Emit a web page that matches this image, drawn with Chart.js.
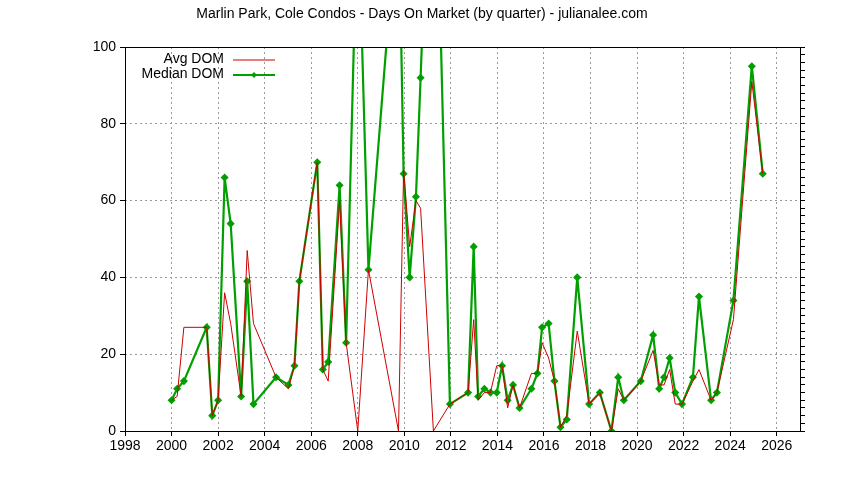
<!DOCTYPE html>
<html>
<head>
<meta charset="utf-8">
<script src="https://cdn.jsdelivr.net/npm/chart.js@4"></script>
<style>
  body { margin: 0; background: #fff; }
  #wrap { width: 844px; height: 480px; }
</style>
</head>
<body>
<div id="wrap"><canvas id="dom-chart" width="844" height="480"></canvas></div>
<script>
// Quarter positions (decimal years) and days on market
const quarters = [2000.0, 2000.24, 2000.53, 2001.51, 2001.75, 2002.0, 2002.28, 2002.54, 2002.99, 2003.25,
    2003.52, 2004.49, 2005.02, 2005.28, 2005.49, 2006.26, 2006.5, 2006.73, 2007.22, 2007.5,
    2008.0, 2008.46, 2009.75, 2009.97, 2010.23, 2010.5, 2010.7, 2011.25, 2011.96, 2012.74,
    2012.98, 2013.17, 2013.44, 2013.7, 2013.97, 2014.2, 2014.44, 2014.67, 2014.95, 2015.46,
    2015.72, 2015.92, 2016.2, 2016.45, 2016.71, 2016.98, 2017.43, 2017.94, 2018.4, 2018.9,
    2019.19, 2019.43, 2020.16, 2020.69, 2020.95, 2021.16, 2021.4, 2021.64, 2021.93, 2022.4,
    2022.66, 2023.18, 2023.43, 2024.14, 2024.93, 2025.4];
const avgDom = [8, 9, 27, 27, 4, 8, 36, 28, 9, 47,
    28, 14, 11, 17, 39, 70, 16, 13, 60, 23,
    0, 42, 0, 68, 48, 60, 58, 0, 7, 10,
    29, 8, 10, 10, 17, 17, 6, 12, 6, 15,
    15, 23, 19, 13, 1, 4, 26, 7, 10, 0,
    11, 8, 13, 21, 12, 12, 16, 7, 7, 13,
    16, 8, 10, 29, 91, 67];
const medianDom = [8, 11, 13, 27, 4, 8, 66, 54, 9, 39,
    7, 14, 12, 17, 39, 70, 16, 18, 64, 23,
    140, 42, 140, 67, 40, 61, 92, 180, 7, 10,
    48, 9, 11, 10, 10, 17, 8, 12, 6, 11,
    15, 27, 28, 13, 1, 3, 40, 7, 10, 0,
    14, 8, 13, 25, 11, 14, 19, 10, 7, 14,
    35, 8, 10, 34, 95, 67];
const xTicks = [1998, 2000, 2002, 2004, 2006, 2008, 2010, 2012, 2014, 2016, 2018, 2020, 2022, 2024, 2026];
const yTicks = [0, 20, 40, 60, 80, 100];

const FONT = 'Liberation Sans, Arial, sans-serif';

// gnuplot style title, border and legend drawn on top of the plot
const gnuplotDecor = {
    id: 'gnuplotDecor',
    afterDraw(chart) {
        const ctx = chart.ctx;
        const area = chart.chartArea;
        ctx.save();
        ctx.fillStyle = '#000';
        ctx.font = '14px ' + FONT;
        ctx.textAlign = 'center';
        ctx.textBaseline = 'middle';
        ctx.fillText('Marlin Park, Cole Condos - Days On Market (by quarter) - julianalee.com', 422, 14);

        ctx.strokeStyle = '#000';
        ctx.lineWidth = 1;
        ctx.setLineDash([]);
        ctx.strokeRect(area.left + 0.5, area.top + 0.5, area.right - area.left, area.bottom - area.top);

        const entries = [
            { label: 'Avg DOM', color: '#cc0000', width: 1, marker: false },
            { label: 'Median DOM', color: '#00a000', width: 2, marker: true }
        ];
        ctx.textAlign = 'right';
        entries.forEach((e, i) => {
            const y = 59 + i * 15;
            ctx.fillStyle = '#000';
            ctx.fillText(e.label, 224, y);
            ctx.strokeStyle = e.color;
            ctx.lineWidth = e.width;
            ctx.beginPath();
            ctx.moveTo(233, y + 1);
            ctx.lineTo(275, y + 1);
            ctx.stroke();
            if (e.marker) {
                ctx.fillStyle = e.color;
                ctx.beginPath();
                ctx.moveTo(254, y - 2);
                ctx.lineTo(257, y + 1);
                ctx.lineTo(254, y + 4);
                ctx.lineTo(251, y + 1);
                ctx.closePath();
                ctx.fill();
            }
        });
        ctx.restore();
    }
};

const avgPoints = quarters.map((q, i) => ({ x: q, y: avgDom[i] }));
const medianPoints = quarters.map((q, i) => ({ x: q, y: medianDom[i] }));

new Chart(document.getElementById('dom-chart').getContext('2d'), {
    type: 'line',
    data: {
        datasets: [{
            label: 'Avg DOM',
            data: avgPoints,
            borderColor: '#cc0000',
            borderWidth: 1,
            pointRadius: 0,
            tension: 0
        }, {
            label: 'Median DOM',
            data: medianPoints,
            borderColor: '#00a000',
            backgroundColor: '#00a000',
            borderWidth: 2.2,
            pointStyle: 'rectRot',
            pointRadius: 2.5,
            tension: 0
        }]
    },
    options: {
        responsive: false,
        animation: false,
        layout: { padding: { top: 47, right: 0, left: 0, bottom: 0 } },
        plugins: {
            legend: { display: false },
            title: { display: false },
            tooltip: { enabled: false }
        },
        scales: {
            x: {
                type: 'linear',
                min: 1998,
                max: 2027,
                afterBuildTicks: axis => { axis.ticks = xTicks.map(v => ({ value: v })); },
                afterFit: axis => { axis.height = 49; },
                ticks: { color: '#000', font: { family: FONT, size: 14 }, maxRotation: 0, padding: 2,
                    callback: v => String(v) },
                grid: { color: '#999', lineWidth: 1, tickLength: 5, tickColor: '#000' },
                border: { display: false, dash: [2, 3] }
            },
            y: {
                min: 0,
                max: 100,
                afterBuildTicks: axis => { axis.ticks = yTicks.map(v => ({ value: v })); },
                afterFit: axis => { axis.width = 125; },
                ticks: { color: '#000', font: { family: FONT, size: 14 }, padding: 4 },
                grid: { color: '#999', lineWidth: 1, tickLength: 5, tickColor: '#000' },
                border: { display: false, dash: [2, 3] }
            },
            y2: {
                position: 'right',
                min: 0,
                max: 100,
                afterBuildTicks: axis => {
                    const t = [];
                    for (let v = 0; v <= 100; v += 2) t.push({ value: v });
                    axis.ticks = t;
                },
                afterFit: axis => { axis.width = 44; },
                ticks: { display: false },
                grid: { drawOnChartArea: false, tickLength: 5, color: '#000' },
                border: { display: false }
            }
        }
    },
    plugins: [gnuplotDecor]
});
</script>
</body>
</html>
